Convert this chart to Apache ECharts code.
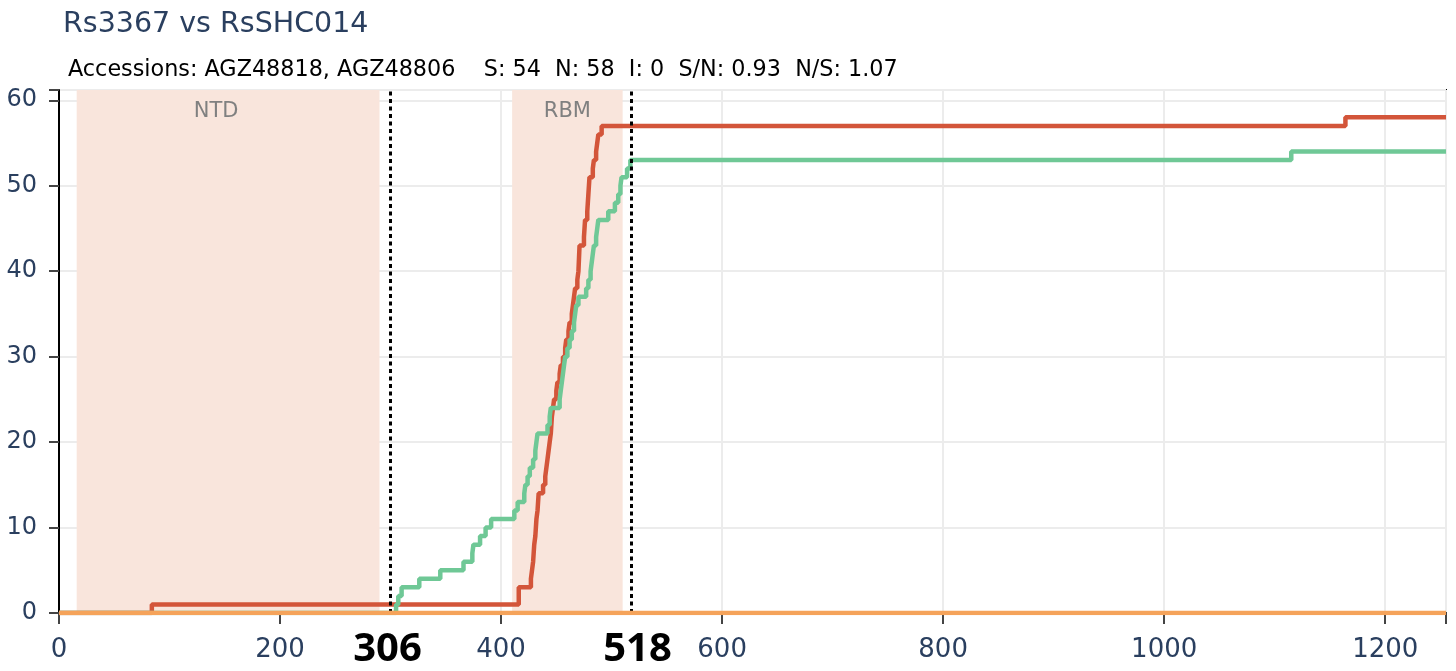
<!DOCTYPE html>
<html>
<head>
<meta charset="utf-8">
<script src="https://cdn.jsdelivr.net/npm/echarts@6/dist/echarts.min.js"></script>
<style>html,body{margin:0;padding:0;background:#fff}#c{width:1456px;height:671px}</style>
</head>
<body>
<div id="c"></div>
<script>
// ---- data ----
const titleText = 'Rs3367 vs RsSHC014';
const subtitleText = 'Accessions: AGZ48818, AGZ48806    S: 54  N: 58  I: 0  S/N: 0.93  N/S: 1.07';

const xMax = 1255;
const yMax = 61.2;
const xTicks = [0, 200, 400, 600, 800, 1000, 1200];
const yTicks = [0, 10, 20, 30, 40, 50, 60];

// non-synonymous (N) cumulative count
const nPos = [0, 84, 416, 427, 428, 429, 430, 431, 432, 433, 434, 438, 440, 441, 442, 443, 444, 445, 446, 447, 448, 450, 451, 453, 454, 456, 458, 459, 461, 462, 464, 465, 466, 467, 469, 470, 471, 475, 476, 478, 479, 480, 483, 484, 486, 487, 488, 491, 1164, 1255];
const nCum = [0, 1, 3, 4, 5, 6, 8, 9, 11, 12, 14, 15, 16, 17, 18, 19, 20, 21, 23, 24, 25, 26, 27, 28, 29, 30, 31, 32, 33, 34, 35, 36, 37, 38, 39, 40, 43, 44, 46, 47, 49, 51, 52, 53, 54, 55, 56, 57, 58, 58];

// synonymous (S) cumulative count
const sPos = [0, 303, 305, 307, 310, 326, 345, 366, 374, 375, 381, 386, 391, 412, 415, 421, 422, 424, 426, 429, 431, 432, 433, 442, 444, 445, 453, 454, 455, 456, 457, 458, 460, 462, 464, 466, 467, 468, 470, 477, 479, 481, 482, 483, 484, 486, 487, 488, 497, 503, 506, 508, 509, 514, 517, 1115, 1255];
const sCum = [0, 0, 1, 2, 3, 4, 5, 6, 7, 8, 9, 10, 11, 12, 13, 14, 15, 16, 17, 18, 19, 20, 21, 22, 23, 24, 25, 26, 27, 28, 29, 30, 31, 32, 33, 34, 35, 36, 37, 38, 39, 40, 41, 42, 43, 44, 45, 46, 47, 48, 49, 50, 51, 52, 53, 54, 54];

// indels (I) cumulative count
const iPos = [0, 1255];
const iCum = [0, 0];

// shaded domains
const domainNames = ['NTD', 'RBM'];
const domainStart = [16, 410];
const domainEnd = [290, 510];

// boundary markers
const markerPos = [300, 518];
const markerLabels = ['306', '518'];
// ---------------------------------------

const zip = (xs, ys) => xs.map((x, i) => [x, ys[i]]);
const chart = echarts.init(document.getElementById('c'), null, {renderer: 'canvas'});
const FONT = 'DejaVu Sans';
const markerLabelShift = [-3, 6];

chart.setOption({
  animation: false,
  backgroundColor: '#ffffff',
  title: [
    {text: titleText, left: 58, top: 5,
     textStyle: {fontFamily: FONT, fontSize: 28.5, fontWeight: 'normal', color: '#2a3f5f'}},
    {text: subtitleText, left: 63, top: 54,
     textStyle: {fontFamily: FONT, fontSize: 22.3, fontWeight: 'normal', color: '#000000'}}
  ],
  grid: {left: 59, right: 10, top: 90, bottom: 58, show: true, borderColor: '#000', borderWidth: 2, backgroundColor: 'transparent'},
  xAxis: {
    type: 'value', min: 0, max: xMax, interval: 200,
    axisLine: {show: true, onZero: false, lineStyle: {color: '#000', width: 2}},
    axisTick: {show: true, length: 11, lineStyle: {color: '#444', width: 2}},
    axisLabel: {fontFamily: FONT, fontSize: 26, color: '#2a3f5f', margin: 24,
      formatter: v => xTicks.indexOf(v) >= 0 ? String(v) : ''},
    splitLine: {show: true, lineStyle: {color: '#ececec', width: 2}}
  },
  yAxis: {
    type: 'value', min: 0, max: yMax, interval: 10,
    axisLine: {show: true, onZero: false, lineStyle: {color: '#000', width: 2}},
    axisTick: {show: true, length: 10, lineStyle: {color: '#444', width: 2}},
    axisLabel: {fontFamily: FONT, fontSize: 24, color: '#2a3f5f', margin: 22,
      formatter: v => yTicks.indexOf(v) >= 0 ? String(v) : ''},
    splitLine: {show: true, lineStyle: {color: '#ececec', width: 2}}
  },
  series: [
    {
      name: 'domains', type: 'line', data: [], z: -1, silent: true,
      markArea: {
        silent: true,
        itemStyle: {color: '#f9e5dc'},
        label: {show: true, position: 'insideTop', distance: 11, color: '#808080', fontFamily: FONT, fontSize: 21},
        data: domainNames.map((n, i) => [
          {name: n, xAxis: domainStart[i], label: {offset: [i === 0 ? -12 : 0, 0]}},
          {xAxis: domainEnd[i]}
        ])
      }
    },
    {
      name: 'N', type: 'line', step: 'end', showSymbol: false, symbol: 'none', z: 3,
      data: zip(nPos, nCum), lineStyle: {color: '#d3553a', width: 4.5}
    },
    {
      name: 'S', type: 'line', step: 'end', showSymbol: false, symbol: 'none', z: 4,
      data: zip(sPos, sCum), lineStyle: {color: '#6fc896', width: 4.5}
    },
    {
      name: 'I', type: 'line', step: 'end', showSymbol: false, symbol: 'none', z: 5,
      data: zip(iPos, iCum), lineStyle: {color: '#f5a35a', width: 4.5}
    },
    {
      name: 'markers', type: 'line', data: [], z: 6, silent: true,
      markLine: {
        silent: true, symbol: ['none', 'none'],
        lineStyle: {color: '#000', width: 3, type: [4, 3.5]},
        label: {show: true, position: 'start', distance: 17, color: '#000',
          fontFamily: 'Open Sans', fontWeight: 'bold', fontSize: 40},
        data: markerPos.map((p, i) => ({xAxis: p,
          label: {formatter: markerLabels[i], offset: [markerLabelShift[i], 0]}}))
      }
    }
  ]
});
</script>
</body>
</html>
